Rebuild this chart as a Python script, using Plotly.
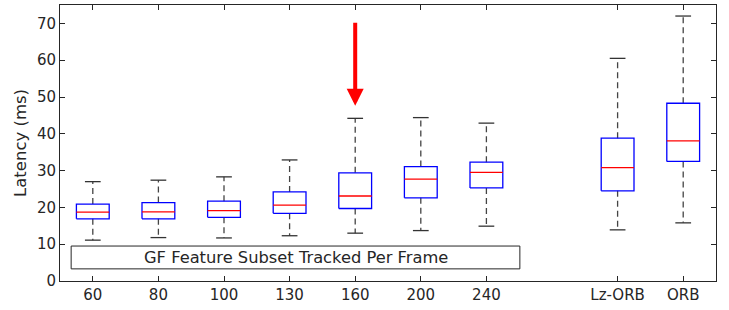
import plotly.graph_objects as go

categories = ["60", "80", "100", "130", "160", "200", "240", "Lz-ORB", "ORB"]
positions = [1, 2, 3, 4, 5, 6, 7, 9, 10]
lower_whisker = [11.1, 11.8, 11.7, 12.3, 13.0, 13.7, 14.9, 13.9, 15.8]
q1 = [16.9, 16.9, 17.3, 18.4, 19.7, 22.6, 25.3, 24.5, 32.5]
median = [18.7, 18.8, 19.1, 20.6, 23.1, 27.7, 29.5, 30.8, 38.1]
q3 = [20.9, 21.3, 21.7, 24.2, 29.4, 31.1, 32.3, 38.8, 48.3]
upper_whisker = [27.0, 27.4, 28.3, 32.9, 44.2, 44.4, 42.9, 60.5, 72.0]

y_ticks = [0, 10, 20, 30, 40, 50, 60, 70]
annot_text = "GF Feature Subset Tracked Per Frame"
arrow_cat = 5
arrow_from, arrow_to = 70.6, 47.6

BW = 0.25   # half box width
CW = 0.12   # half cap width
FONT = "DejaVu Sans"
AX = "#262626"

wx, wy, cx, cy, bx, by, mx, my = [], [], [], [], [], [], [], []
for p, lo, a, m, b, hi in zip(positions, lower_whisker, q1, median, q3, upper_whisker):
    wx += [p, p, None, p, p, None]
    wy += [b, hi, None, a, lo, None]
    cx += [p - CW, p + CW, None, p - CW, p + CW, None]
    cy += [hi, hi, None, lo, lo, None]
    bx += [p - BW, p + BW, p + BW, p - BW, p - BW, None]
    by += [a, a, b, b, a, None]
    mx += [p - BW, p + BW, None]
    my += [m, m, None]

fig = go.Figure()
fig.add_trace(go.Scatter(x=wx, y=wy, mode="lines", line=dict(color="#444444", width=1.3, dash="6px,4px"), hoverinfo="skip"))
fig.add_trace(go.Scatter(x=cx, y=cy, mode="lines", line=dict(color="#333333", width=1.3), hoverinfo="skip"))
fig.add_trace(go.Scatter(x=bx, y=by, mode="lines", line=dict(color="#0000ff", width=1.3), hoverinfo="skip"))
fig.add_trace(go.Scatter(x=mx, y=my, mode="lines", line=dict(color="#ff0000", width=1.3), hoverinfo="skip"))

fig.add_shape(type="rect", xref="x", yref="y", x0=0.67, x1=7.51, y0=3.3, y1=9.5,
              line=dict(color="#262626", width=1), fillcolor="white", layer="above")
fig.add_annotation(x=(0.67 + 7.51) / 2, y=6.4, xref="x", yref="y", text=annot_text,
                   showarrow=False, font=dict(family=FONT, size=16.3, color="#262626"))

fig.add_annotation(x=arrow_cat, y=arrow_to, ax=arrow_cat, ay=arrow_from, xref="x", yref="y",
                   axref="x", ayref="y", text="", showarrow=True, arrowhead=2, arrowsize=0.85,
                   arrowwidth=4, arrowcolor="#ff0000")

fig.update_layout(
    width=729, height=310, margin=dict(l=60, r=13, t=5, b=29),
    plot_bgcolor="white", paper_bgcolor="white", showlegend=False,
    font=dict(family=FONT, size=15, color=AX),
)
fig.update_xaxes(range=[0.5, 10.5], tickvals=positions, ticktext=categories, ticks="inside",
                 ticklen=5, tickcolor=AX, showline=True, linecolor=AX, linewidth=1, mirror="ticks",
                 showgrid=False, zeroline=False, tickfont=dict(size=15, color=AX))
fig.update_yaxes(range=[0, 75], tickvals=y_ticks, ticks="inside", ticklen=5, tickcolor=AX,
                 showline=True, linecolor=AX, linewidth=1, mirror="ticks", showgrid=False,
                 zeroline=False, title=dict(text="Latency (ms)", font=dict(size=16.5, color=AX), standoff=6),
                 tickfont=dict(size=15, color=AX))

fig.write_html("out.html", config={"displayModeBar": False},
               post_script="document.body.style.margin='0';")
